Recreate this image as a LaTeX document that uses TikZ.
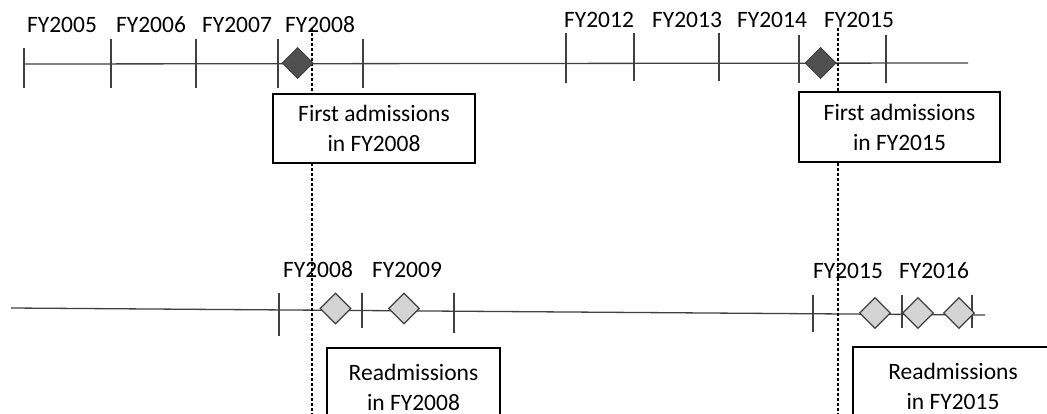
\documentclass[tikz,border=0pt]{standalone}
\usepackage{fontspec}
\setmainfont{Carlito}
\usetikzlibrary{shapes.geometric}
\definecolor{lineg}{HTML}{404040}
\definecolor{darkd}{HTML}{505050}
\definecolor{lightd}{HTML}{D4D4D4}
\tikzset{
  axis/.style={draw=lineg, line width=1.3pt},
  tickmark/.style={draw=lineg, line width=1.3pt},
  guide/.style={draw=black, line width=1.3pt, dash pattern=on 3pt off 2pt},
  darkdia/.style={diamond, aspect=1, inner sep=0pt, minimum width=31pt, minimum height=31pt, draw=lineg, line width=1pt, fill=darkd},
  lightdia/.style={diamond, aspect=1, inner sep=0pt, minimum width=31pt, minimum height=31pt, draw=lineg, line width=1.3pt, fill=lightd},
  yearlbl/.style={anchor=base, inner sep=0pt, font=\fontsize{23.5}{28}\selectfont},
  infobox/.style={draw=black, line width=1.4pt, fill=white, align=center, inner sep=0pt, font=\fontsize{23.5}{30}\selectfont},
}
\begin{document}
\begin{tikzpicture}[x=1pt, y=-1pt]
\useasboundingbox (0,0) rectangle (1047,414);
\begin{scope}
\clip (0,0) rectangle (1047,414);
% top timeline
\coordinate (tL) at (24,64);
\coordinate (tR) at (968,63);
\draw[axis] (tL) -- (tR);
\foreach \x/\a/\b in {24/48/88, 111/39/88, 196/39/88, 278/39/88, 363/39/88, 566/33/83, 634/33/81, 719/33/81, 799/35/83, 886/35/83}
  \draw[tickmark] (\x,\a) -- (\x,\b);
% bottom timeline
\coordinate (bL) at (11,308);
\coordinate (bR) at (985,315);
\draw[axis] (bL) -- (bR);
\foreach \x/\a/\b in {279/293/336, 362/293/328, 454/293/333, 813/295/332, 902/295/328, 972/295/328}
  \draw[tickmark] (\x,\a) -- (\x,\b);
% dashed guides
\coordinate (g1t) at (312,28);
\coordinate (g1b) at (312,414);
\coordinate (g2t) at (838,28);
\coordinate (g2b) at (838,414);
\draw[guide] (g1t) -- (g1b);
\draw[guide] (g2t) -- (g2b);
% diamonds
\node[darkdia] (d1) at (297.5,63) {};
\node[darkdia] (d2) at (820.5,63) {};
\node[lightdia] (r1) at (335.5,308.5) {};
\node[lightdia] (r2) at (404,308.5) {};
\node[lightdia] (r3) at (875,313) {};
\node[lightdia] (r4) at (918,313) {};
\node[lightdia] (r5) at (959,313) {};
% year labels
\node[yearlbl] (y05) at (62,33) {FY2005};
\node[yearlbl] (y06) at (151,33) {FY2006};
\node[yearlbl] (y07) at (237,33) {FY2007};
\node[yearlbl] (y08) at (320,33) {FY2008};
\node[yearlbl] (y12) at (599,28) {FY2012};
\node[yearlbl] (y13) at (687,28) {FY2013};
\node[yearlbl] (y14) at (772,28) {FY2014};
\node[yearlbl] (y15) at (859,28) {FY2015};
\node[yearlbl] (b08) at (318,277) {FY2008};
\node[yearlbl] (b09) at (407,277) {FY2009};
\node[yearlbl] (b15) at (848,278) {FY2015};
\node[yearlbl] (b16) at (934,278) {FY2016};
% boxes
\node[infobox, minimum width=202pt, minimum height=69pt] (fa08) at (374,128.5) {First admissions\\in FY2008};
\node[infobox, minimum width=201pt, minimum height=70pt] (fa15) at (899.5,127) {First admissions\\in FY2015};
\node[infobox, minimum width=173pt, minimum height=78pt] (ra08) at (413.5,387) {Readmissions\\in FY2008};
\node[infobox, minimum width=200pt, minimum height=78pt] (ra15) at (953,386) {Readmissions\\in FY2015};
\end{scope}
\end{tikzpicture}
\end{document}
